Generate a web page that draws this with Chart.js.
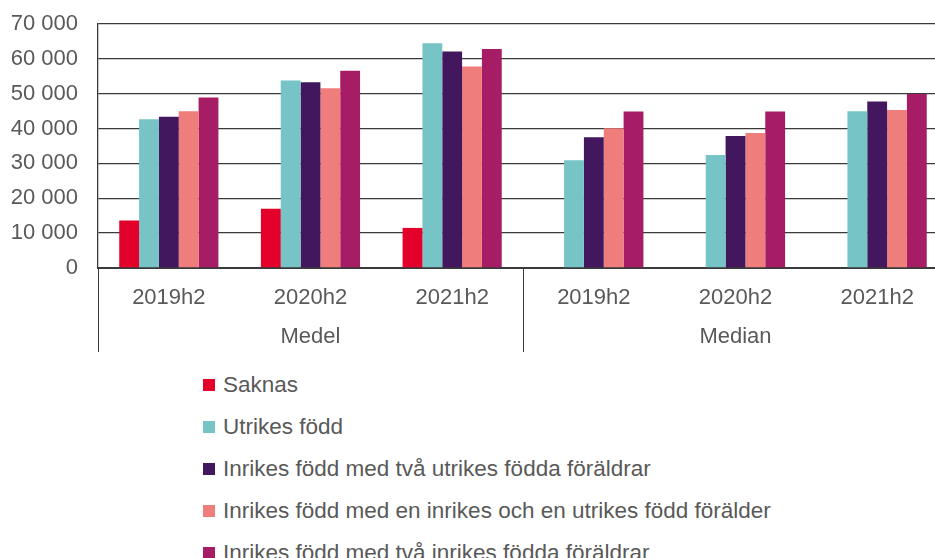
<!DOCTYPE html>
<html>
<head>
<meta charset="utf-8">
<script src="https://cdn.jsdelivr.net/npm/chart.js@4"></script>
<style>
  html, body { margin: 0; padding: 0; background: #fff; overflow: hidden; }
  #wrap { position: relative; width: 950px; height: 558px; }
  #chart { position: absolute; left: 0; top: 0; }
  #legend {
    position: absolute; left: 203px; top: 364px; margin: 0; padding: 0; list-style: none;
    font-family: "Liberation Sans", Arial, sans-serif; font-size: 22.5px; color: #595959;
  }
  #legend li { display: flex; align-items: center; height: 41.9px; white-space: nowrap; }
  #legend span.box { display: inline-block; width: 12px; height: 12px; margin-right: 8px; }
</style>
</head>
<body>
<div id="wrap">
  <canvas id="chart" width="950" height="356"></canvas>
  <ul id="legend"></ul>
</div>
<script>
// Data
const categories = ["2019h2", "2020h2", "2021h2", "2019h2", "2020h2", "2021h2"];
const groups = ["Medel", "Median"];
const seriesNames = [
  "Saknas",
  "Utrikes född",
  "Inrikes född med två utrikes födda föräldrar",
  "Inrikes född med en inrikes och en utrikes född förälder",
  "Inrikes född med två inrikes födda föräldrar"
];
const saknas     = [13600, 17000, 11500, null, null, null];
const utrikes    = [42700, 53800, 64500, 30900, 32400, 45000];
const tvaUtrikes = [43400, 53300, 62100, 37500, 37900, 47800];
const enVardera  = [45000, 51600, 57800, 40100, 38700, 45300];
const tvaInrikes = [48900, 56600, 62800, 44900, 44900, 49900];
const yTicks = [0, 10000, 20000, 30000, 40000, 50000, 60000, 70000];

const colors = ["#E3002B", "#76C4C6", "#43175D", "#EE7D7B", "#A71D65"];
const textColor = "#595959";
const lineColor = "#3a3a3a";
const font = { family: "'Liberation Sans', Arial, sans-serif", size: 22 };

function fmt(v) {
  return String(v).replace(/\B(?=(\d{3})+(?!\d))/g, " ");
}

// group labels + separators under the x axis
const groupAxis = {
  id: "groupAxis",
  afterDraw(chart) {
    const ctx = chart.ctx;
    const x = chart.scales.x;
    const per = categories.length / groups.length;
    const bottom = 352;
    ctx.save();
    ctx.strokeStyle = lineColor;
    ctx.lineWidth = 1;
    for (let g = 0; g <= groups.length; g++) {
      const px = Math.round(x.getPixelForValue(g * per - 0.5)) + 0.5;
      ctx.beginPath();
      ctx.moveTo(px, chart.chartArea.bottom);
      ctx.lineTo(px, bottom);
      ctx.stroke();
    }
    ctx.fillStyle = textColor;
    ctx.font = font.size + "px " + font.family;
    ctx.textAlign = "center";
    ctx.textBaseline = "middle";
    groups.forEach((name, g) => {
      const cx = x.getPixelForValue(g * per + (per - 1) / 2);
      ctx.fillText(name, cx, 337);
    });
    ctx.restore();
  }
};

// html legend, one item per line
const htmlLegend = {
  id: "htmlLegend",
  afterUpdate(chart) {
    const ul = document.getElementById("legend");
    ul.innerHTML = "";
    const items = chart.options.plugins.legend.labels.generateLabels(chart);
    items.forEach(item => {
      const li = document.createElement("li");
      const box = document.createElement("span");
      box.className = "box";
      box.style.background = item.fillStyle;
      li.appendChild(box);
      li.appendChild(document.createTextNode(item.text));
      ul.appendChild(li);
    });
  }
};

const seriesData = [saknas, utrikes, tvaUtrikes, enVardera, tvaInrikes];

new Chart(document.getElementById("chart"), {
  type: "bar",
  data: {
    labels: categories,
    datasets: seriesData.map((d, i) => ({
      label: seriesNames[i],
      data: d,
      backgroundColor: colors[i],
      borderWidth: 0,
      categoryPercentage: 0.7,
      barPercentage: 1
    }))
  },
  options: {
    responsive: false,
    animation: false,
    layout: { padding: { top: 24, right: 2, left: 0, bottom: 0 } },
    plugins: {
      legend: { display: false },
      tooltip: { enabled: false }
    },
    scales: {
      x: {
        grid: { display: false, drawTicks: false },
        border: { display: true, color: lineColor, width: 2 },
        ticks: { color: textColor, font: font, padding: 17, maxRotation: 0, autoSkip: false },
        afterFit(scale) { scale.height = 88; }
      },
      y: {
        min: 0,
        max: 70000,
        grid: { color: lineColor, lineWidth: 1.3, drawTicks: true, tickLength: 20, tickColor: "transparent" },
        border: { display: true, color: lineColor, width: 1.3 },
        afterBuildTicks(scale) { scale.ticks = yTicks.map(v => ({ value: v })); },
        ticks: { color: textColor, font: font, padding: 0, callback: v => fmt(v) },
        afterFit(scale) { scale.width = 98; }
      }
    }
  },
  plugins: [groupAxis, htmlLegend]
});
</script>
</body>
</html>
